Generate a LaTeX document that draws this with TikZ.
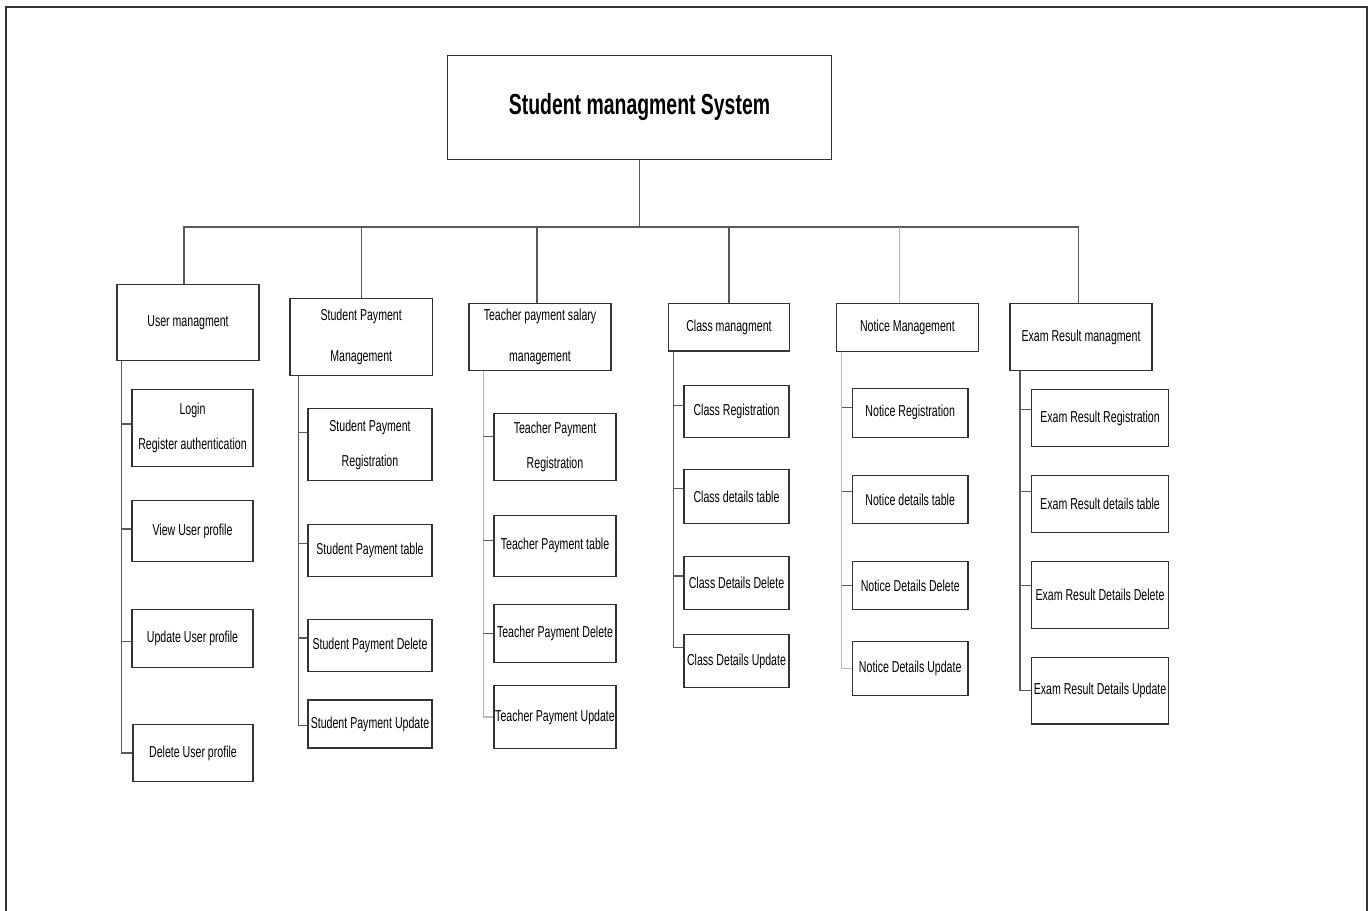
\documentclass[tikz,border=0pt]{standalone}
\usepackage{fontspec}
\usepackage{tikz}
\usetikzlibrary{positioning}
\newfontfamily\diagfont[FakeStretch=0.67]{Liberation Sans}

\begin{document}
\begin{tikzpicture}[x=0.02cm, y=-0.02cm]
		\tikzset{
			box/.style={rectangle, draw=black!80, line width=0.7pt, fill=white, align=center,
			inner sep=0.5pt, font=\diagfont\fontsize{9}{20}\selectfont},
			link/.style={draw=black!65, line width=0.6pt},
			faint/.style={draw=black!28, line width=0.6pt},
		}
		\useasboundingbox (0,0) rectangle (1368,911);
		\draw[black!80, line width=0.8pt] (6,911) -- (6,7) -- (1367,7) -- (1367,911);

		\node[box, minimum width=7.69cm, minimum height=2.08cm,
			font=\diagfont\bfseries\fontsize{16.5}{20}\selectfont](sms) at (639.5,107.3){Student managment System};

		\node[box, minimum width=2.84cm, minimum height=1.53cm](user) at (188,322.5){User managment};
		\node[box, minimum width=2.85cm, minimum height=1.53cm](stpay) at (361.2,337){Student Payment\\[3.3pt]Management};
		\node[box, minimum width=2.84cm, minimum height=1.34cm](tchpay) at (540,337.2){Teacher payment salary\\[3.3pt]management};
		\node[box, minimum width=2.41cm, minimum height=0.95cm](class) at (729,327.2){Class managment};
		\node[box, minimum width=2.84cm, minimum height=0.96cm](notice) at (907.4,327.4){Notice Management};
		\node[box, minimum width=2.84cm, minimum height=1.34cm](exam) at (1081,337){Exam Result managment};

		\node[box, minimum width=2.42cm, minimum height=1.54cm](login) at (192.5,428){Login\\Register authentication};
		\node[box, minimum width=2.42cm, minimum height=1.23cm](viewp) at (192.5,531){View User profile};
		\node[box, minimum width=2.42cm, minimum height=1.16cm](updp) at (192.5,638.3){Update User profile};
		\node[box, minimum width=2.4cm, minimum height=1.14cm](delp) at (193,753){Delete User profile};

		\node[box, minimum width=2.48cm, minimum height=1.43cm](spreg) at (370,444.5){Student Payment\\Registration};
		\node[box, minimum width=2.48cm, minimum height=1.04cm](sptab) at (370,550.5){Student Payment table};
		\node[box, minimum width=2.48cm, minimum height=1.05cm](spdel) at (370,645.4){Student Payment Delete};
		\node[box, minimum width=2.48cm, minimum height=0.96cm](spupd) at (370,724){Student Payment Update};

		\node[box, minimum width=2.44cm, minimum height=1.34cm](tpreg) at (555,446.8){Teacher Payment\\Registration};
		\node[box, minimum width=2.44cm, minimum height=1.21cm](tptab) at (555,545.9){Teacher Payment table};
		\node[box, minimum width=2.44cm, minimum height=1.15cm](tpdel) at (555,633.4){Teacher Payment Delete};
		\node[box, minimum width=2.44cm, minimum height=1.25cm](tpupd) at (555,717){Teacher Payment Update};

		\node[box, minimum width=2.1cm, minimum height=1.03cm](creg) at (736.5,411.4){Class Registration};
		\node[box, minimum width=2.1cm, minimum height=1.08cm](ctab) at (736.5,496.6){Class details table};
		\node[box, minimum width=2.1cm, minimum height=1.05cm](cdel) at (736.5,583){Class Details Delete};
		\node[box, minimum width=2.1cm, minimum height=1.07cm](cupd) at (736.5,661.1){Class Details Update};

		\node[box, minimum width=2.31cm, minimum height=0.98cm](nreg) at (910.2,412.7){Notice Registration};
		\node[box, minimum width=2.31cm, minimum height=0.96cm](ntab) at (910.2,499.7){Notice details table};
		\node[box, minimum width=2.31cm, minimum height=0.96cm](ndel) at (910.2,585.5){Notice Details Delete};
		\node[box, minimum width=2.31cm, minimum height=1.08cm](nupd) at (910.2,668.8){Notice Details Update};

		\node[box, minimum width=2.74cm, minimum height=1.14cm](ereg) at (1100,418.2){Exam Result Registration};
		\node[box, minimum width=2.74cm, minimum height=1.14cm](etab) at (1100,504.3){Exam Result details table};
		\node[box, minimum width=2.74cm, minimum height=1.33cm](edel) at (1100,595){Exam Result Details Delete};
		\node[box, minimum width=2.74cm, minimum height=1.33cm](eupd) at (1100,690.7){Exam Result Details Update};

		\coordinate (bus) at (639.5,227);
		\coordinate (udrop) at ([shift={(-4,0)}]user.north);
		\coordinate (tdrop) at ([shift={(-3,0)}]tchpay.north);
		\coordinate (ndrop) at ([shift={(-8,0)}]notice.north);
		\coordinate (edrop) at ([shift={(-2.7,0)}]exam.north);

		\draw[link](sms) -- (sms |- bus);
		\draw[link](udrop) |- (bus) -| (edrop);
		\draw[link](stpay) -- (stpay |- bus);
		\draw[link](tdrop) -- (tdrop |- bus);
		\draw[link](class) -- (class |- bus);
		\draw[faint](ndrop) -- (ndrop |- bus);

		\draw[link]([shift={(5,0)}]user.south west) |- (delp.west);
		\draw[link]([shift={(0,-4)}]login.west) -- ++(-10,0);
		\draw[link]([shift={(0,-2)}]viewp.west) -- ++(-10,0);
		\draw[link]([shift={(0,3.5)}]updp.west) -- ++(-10,0);

		\draw[link]([shift={(9,0)}]stpay.south west) |- ([shift={(0,1.4)}]spupd.west);
		\draw[link]([shift={(0,-11.7)}]spreg.west) -- ++(-9,0);
		\draw[link]([shift={(0,-7)}]sptab.west) -- ++(-9,0);
		\draw[link]([shift={(0,-7.4)}]spdel.west) -- ++(-9,0);

		\draw[faint]([shift={(15,0)}]tchpay.south west) |- (tpupd.west);
		\draw[link]([shift={(0,-10)}]tpreg.west) -- ++(-10,0);
		\draw[link]([shift={(0,-5.5)}]tptab.west) -- ++(-10,0);
		\draw[link](tpdel.west) -- ++(-10,0);

		\draw[link]([shift={(5.5,0)}]class.south west) |- ([shift={(0,-14)}]cupd.west);
		\draw[link]([shift={(0,-6)}]creg.west) -- ++(-10,0);
		\draw[link]([shift={(0,-8)}]ctab.west) -- ++(-10,0);
		\draw[link]([shift={(0,-7)}]cdel.west) -- ++(-10,0);

		\draw[faint]([shift={(6,0)}]notice.south west) |- (nupd.west);
		\draw[link]([shift={(0,-5.5)}]nreg.west) -- ++(-10,0);
		\draw[link]([shift={(0,-8)}]ntab.west) -- ++(-10,0);
		\draw[link](ndel.west) -- ++(-10,0);

		\draw[link]([shift={(10.6,0)}]exam.south west) |- (eupd.west);
		\draw[link]([shift={(0,-8.6)}]ereg.west) -- ++(-11,0);
		\draw[link]([shift={(0,-12.5)}]etab.west) -- ++(-11,0);
		\draw[link]([shift={(0,-9.3)}]edel.west) -- ++(-11,0);

	\end{tikzpicture}
\end{document}
